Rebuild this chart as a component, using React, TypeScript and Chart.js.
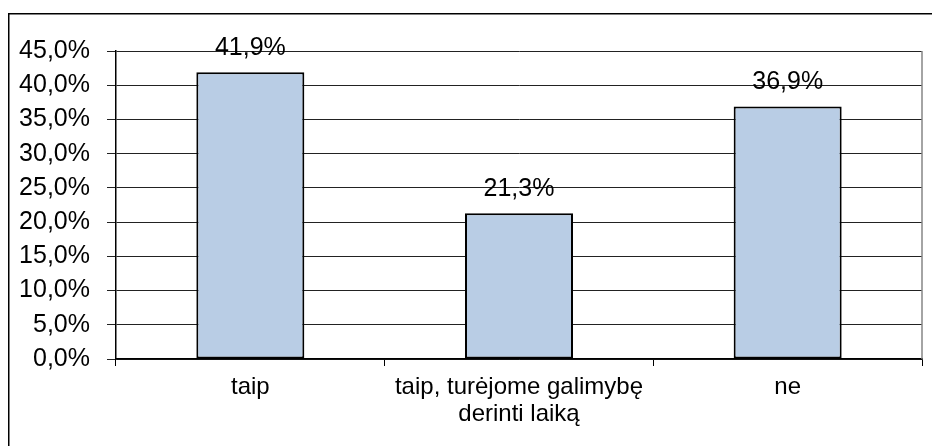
import React, { useEffect, useRef } from "react";
import { Chart, registerables } from "chart.js";

Chart.register(...registerables);

const categories: (string | string[])[] = ["taip", ["taip, turėjome galimybę", "derinti laiką"], "ne"];
const values: number[] = [41.9, 21.3, 36.9];
const yMax = 45;
const yStep = 5;

const fmt = (v: number) => v.toFixed(1).replace(".", ",") + "%";

const FONT = "'Liberation Sans', Arial, sans-serif";

const decorPlugin = {
  id: "decor",
  afterDraw(chart: any) {
    const ctx = chart.ctx;
    const area = chart.chartArea;
    ctx.save();
    // outer frame
    ctx.strokeStyle = "#000";
    ctx.lineWidth = 1.5;
    ctx.beginPath();
    ctx.moveTo(8.75, 446);
    ctx.lineTo(8.75, 13.75);
    ctx.lineTo(932, 13.75);
    ctx.stroke();
    // plot right border
    ctx.strokeStyle = "#868686";
    ctx.lineWidth = 1.5;
    ctx.beginPath();
    ctx.moveTo(area.right, area.top);
    ctx.lineTo(area.right, area.bottom);
    ctx.stroke();
    // data labels
    const meta = chart.getDatasetMeta(0);
    ctx.fillStyle = "#000";
    ctx.font = `25px ${FONT}`;
    ctx.textAlign = "center";
    ctx.textBaseline = "alphabetic";
    meta.data.forEach((bar: any, i: number) => {
      ctx.fillText(fmt(values[i]), bar.x, bar.y - 17);
    });
    ctx.restore();
  },
};

export default function App() {
  const ref = useRef<HTMLCanvasElement>(null);
  useEffect(() => {
    if (!ref.current) return;
    const chart = new Chart(ref.current, {
      type: "bar",
      data: {
        labels: categories,
        datasets: [
          {
            data: values,
            backgroundColor: "#B9CDE5",
            borderColor: "#000",
            borderWidth: 2,
            borderSkipped: false,
            categoryPercentage: 1,
            barPercentage: 0.402,
          },
        ],
      },
      options: {
        responsive: false,
        animation: false,
        layout: { padding: { top: 51, right: 10, left: 0, bottom: 0 } },
        plugins: { legend: { display: false }, tooltip: { enabled: false } },
        scales: {
          x: {
            offset: true,
            grid: {
              offset: true,
              drawOnChartArea: false,
              drawTicks: true,
              tickLength: 7,
              color: "#000",
              lineWidth: 1,
            },
            border: { display: true, color: "#000", width: 1.5 },
            ticks: {
              color: "#000",
              font: { family: FONT, size: 24, lineHeight: 1.11 },
              padding: 8,
              maxRotation: 0,
              autoSkip: false,
            },
            afterFit(scale: any) {
              scale.height = 87;
            },
          },
          y: {
            min: 0,
            max: yMax,
            grid: {
              color: "#222",
              lineWidth: 1,
              drawTicks: true,
              tickLength: 9,
            },
            border: { display: true, color: "#000", width: 1.5 },
            ticks: {
              stepSize: yStep,
              color: "#000",
              font: { family: FONT, size: 25 },
              padding: 17,
              callback: (v: any) => fmt(Number(v)),
            },
            afterFit(scale: any) {
              scale.width = 116;
            },
          },
        },
      },
      plugins: [decorPlugin],
    });
    return () => chart.destroy();
  }, []);
  return (
    <div style={{ position: "absolute", left: 0, top: 0, width: 932, height: 446, background: "#fff" }}>
      <canvas ref={ref} width={932} height={446} style={{ display: "block" }} />
    </div>
  );
}
